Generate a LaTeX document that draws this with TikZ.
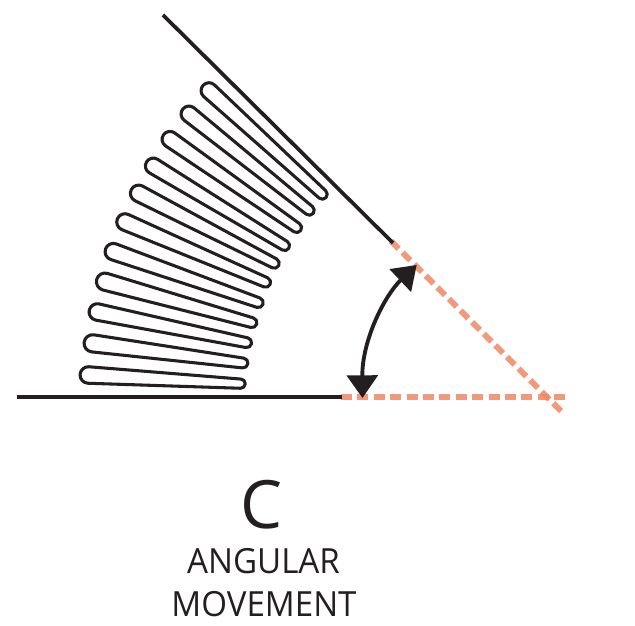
\documentclass[tikz,border=0pt]{standalone}
\usepackage{fontspec}
\setmainfont{Open Sans}
\usetikzlibrary{arrows.meta}
\definecolor{ink}{HTML}{231F20}
\definecolor{salmon}{HTML}{EF8763}
\tikzset{
  x=0.75pt,y=0.75pt,
  solidline/.style={draw=ink,line width=2.8pt},
  pillline/.style={draw=ink,line width=2.3pt,line join=round},
  guide/.style={draw=salmon,draw opacity=.85,line width=4.4pt,dash pattern=on 8.2pt off 4.1pt},
  swing/.style={draw=ink,line width=2.9pt,{Triangle[length=17pt,width=23pt,fill=ink]}-{Triangle[length=17pt,width=23pt,fill=ink]}},
  lbl/.style={text=ink,anchor=base,inner sep=0pt},
  lbltwo/.style={lbl,xscale=.955,font=\fontsize{26}{26}\selectfont}
}
% zoom coordinates of a bellows pill: x1 y1 r1 x2 y2 r2
\newcommand{\pillat}[6]{%
  \pgfmathsetmacro{\pxa}{60+#1/3}\pgfmathsetmacro{\pya}{625-70-#2/3}%
  \pgfmathsetmacro{\pxb}{60+#4/3}\pgfmathsetmacro{\pyb}{625-70-#5/3}%
  \pgfmathsetmacro{\pang}{atan2(\pyb-\pya,\pxb-\pxa)}%
  \pgfmathsetmacro{\pra}{(#3)/3-1.4}\pgfmathsetmacro{\prb}{(#6)/3-1.4}%
  \draw[pillline] ({\pxa+\pra*cos(\pang+90)},{\pya+\pra*sin(\pang+90)})
    -- ({\pxb+\prb*cos(\pang+90)},{\pyb+\prb*sin(\pang+90)})
    arc[start angle=\pang+90,end angle=\pang-90,radius=\prb]
    -- ({\pxa+\pra*cos(\pang-90)},{\pya+\pra*sin(\pang-90)})
    arc[start angle=\pang-90,end angle=\pang-270,radius=\pra] -- cycle;}
\begin{document}
\begin{tikzpicture}
\useasboundingbox (0,0) rectangle (635,625);
% guide lines
\coordinate (dA) at (391,625-241);
\coordinate (dB) at (562,625-412);
\coordinate (hA) at (341,625-397);
\coordinate (hB) at (567,625-397);
\draw[guide] (hA) -- (hB);
\draw[guide] (dA) -- (dB);
% plates
\coordinate (tS) at (163,625-15);
\coordinate (tE) at (393,625-243);
\coordinate (bS) at (17,625-397);
\coordinate (bE) at (342,625-397);
\draw[solidline] (tS) -- (tE);
\draw[solidline] (bS) -- (bE);
% bellows
\pillat{85}{915}{29}{542}{941}{18}
\pillat{98}{820}{30}{549}{879}{19}
\pillat{112}{726}{29}{560}{818}{19}
\pillat{135}{635}{30}{576}{758}{19}
\pillat{160}{545}{29}{595}{698}{19}
\pillat{195}{456}{29}{617}{637}{19}
\pillat{236}{370}{29}{643}{580}{19}
\pillat{280}{288}{28}{674}{527}{19}
\pillat{330}{208}{28}{710}{473}{19}
\pillat{387}{132}{28}{748}{421}{19}
\pillat{447}{62}{28}{787}{373}{19}
% arrow
\coordinate (arrL) at (362.5,625-398);
\coordinate (arrT) at (416.7,625-265);
\draw[swing] (arrL) .. controls (362,625-340) and (385,625-295) .. (arrT);
% labels
\node[lbl,font=\fontsize{50}{50}\selectfont] (big) at (262,625-528) {C};
\node[lbltwo] (l1) at (263.5,625-573) {ANGULAR};
\node[lbltwo] (l2) at (264,625-616) {MOVEMENT};
\end{tikzpicture}
\end{document}
